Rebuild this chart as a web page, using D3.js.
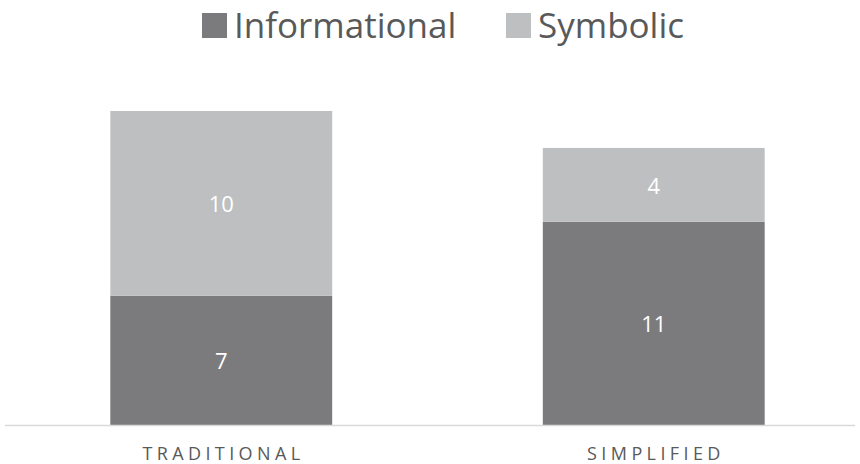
<!DOCTYPE html>
<html><head><meta charset="utf-8">
<script src="https://cdn.jsdelivr.net/npm/d3@7"></script>
<style>body{margin:0;background:#fff}svg{display:block}</style>
</head><body>
<svg id="c" width="860" height="464"></svg>
<script>
const categories = ["TRADITIONAL", "SIMPLIFIED"];
const seriesNames = ["Informational", "Symbolic"];
const informational = [7, 11];
const symbolic = [10, 4];
const colors = ["#7b7b7d", "#bebfc1"];

const svg = d3.select("#c");
const font = "'Open Sans', 'Noto Sans', sans-serif";
const x = d3.scaleBand().domain(categories).range([5, 870]).paddingInner(0.487).paddingOuter(0.2435);
const y = d3.scaleLinear().domain([0, 20]).range([425, 55.6]);

const rows = categories.map((c, i) => ({cat: c, Informational: informational[i], Symbolic: symbolic[i]}));
const stack = d3.stack().keys(seriesNames)(rows);

const g = svg.append("g");
stack.forEach((layer, si) => {
  g.selectAll(null).data(layer).enter().append("rect")
    .attr("x", d => x(d.data.cat))
    .attr("width", x.bandwidth())
    .attr("y", d => y(d[1]))
    .attr("height", d => y(d[0]) - y(d[1]))
    .attr("fill", colors[si]);
  g.selectAll(null).data(layer).enter().append("text")
    .attr("x", d => x(d.data.cat) + x.bandwidth() / 2)
    .attr("y", d => (y(d[0]) + y(d[1])) / 2 + 1)
    .attr("dy", "0.36em")
    .attr("text-anchor", "middle")
    .attr("fill", "#ffffff")
    .style("font-family", font).style("font-size", "22px")
    .text(d => d[1] - d[0]);
});

// baseline axis
const xAxis = d3.axisBottom(x).tickSize(0).tickPadding(0);
const ax = svg.append("g").attr("transform", "translate(0,425.5)").call(xAxis);
ax.select(".domain").attr("d", "M5,0H855").attr("stroke", "#d9d9d9").attr("stroke-width", 1.5);
ax.selectAll(".tick text").attr("fill", "#595959").attr("y", 34.5).attr("dy", 0)
  .attr("dx", "2.2px")
  .style("font-family", font).style("font-size", "18px").style("letter-spacing", "4.4px");

// legend
const leg = svg.append("g");
const legX = [202, 506];
seriesNames.forEach((n, i) => {
  leg.append("rect").attr("x", legX[i]).attr("y", 13).attr("width", 25).attr("height", 25).attr("fill", colors[i]);
  leg.append("text").attr("x", legX[i] + 32).attr("y", 38).attr("fill", "#595959")
    .style("font-family", font).style("font-size", "35px").text(n);
});
</script>
</body></html>
